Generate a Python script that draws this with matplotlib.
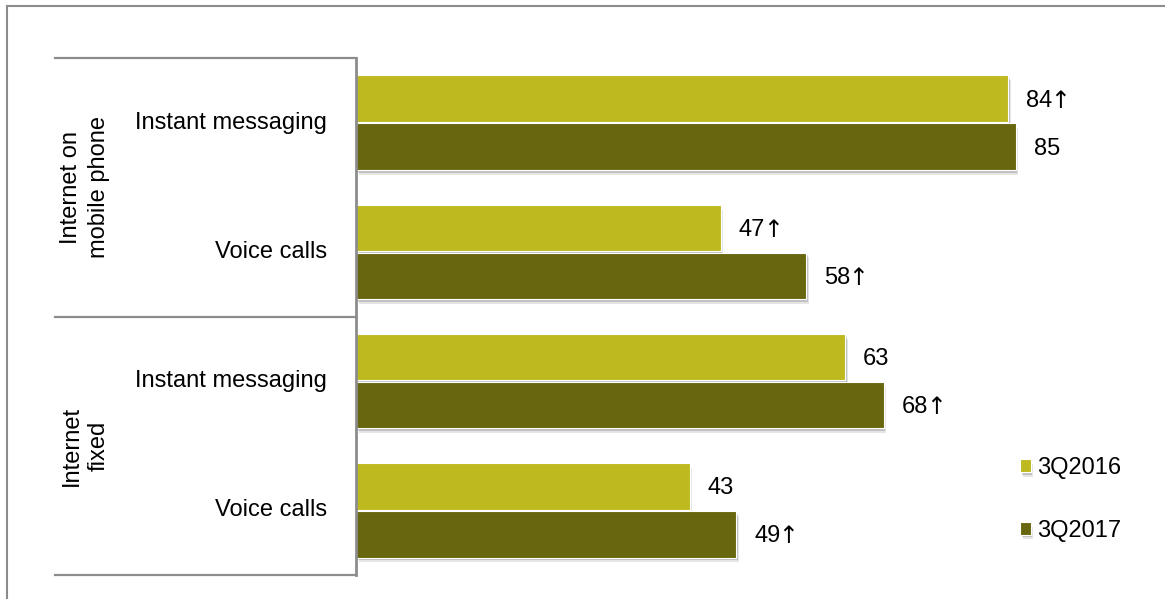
import matplotlib
matplotlib.use("Agg")
import matplotlib.pyplot as plt
import matplotlib.patheffects as pe
from matplotlib.lines import Line2D
from matplotlib.transforms import blended_transform_factory

plt.rcParams['font.family'] = ['Liberation Sans', 'DejaVu Sans']

# Data
groups = ["Internet on\nmobile phone", "Internet\nfixed"]
categories = ["Instant messaging", "Voice calls", "Instant messaging", "Voice calls"]
series_names = ["3Q2016", "3Q2017"]
values_2016 = [84, 47, 63, 43]
values_2017 = [85, 58, 68, 49]
up_2016 = [True, True, False, False]
up_2017 = [False, True, True, True]

colors = ["#BEB91E", "#68660E"]
grey = "#8C8C8C"

W, H = 1165, 599
fig = plt.figure(figsize=(W / 100, H / 100), dpi=100)
fig.patch.set_facecolor("white")

# Axes area (pixel geometry converted to figure fractions)
ax_left, ax_top, ax_bottom, ax_width = 356, 58, 575, 776
ax = fig.add_axes([ax_left / W, 1 - ax_bottom / H, ax_width / W, (ax_bottom - ax_top) / H])
ax.set_xlim(0, 100)
ax.set_ylim(len(categories), 0)
for s in ["top", "right", "bottom"]:
    ax.spines[s].set_visible(False)
ax.spines["left"].set_color(grey)
ax.spines["left"].set_linewidth(2)
ax.set_xticks([])
ax.set_yticks([])
ax.patch.set_alpha(0)

centers = [i + 0.5 for i in range(len(categories))]
bar_h = 0.36
off = 0.185

shadow = [
    pe.SimplePatchShadow(offset=(2.0, -3.5), shadow_rgbFace="#000000", alpha=0.10),
    pe.SimplePatchShadow(offset=(1.2, -2.0), shadow_rgbFace="#000000", alpha=0.16),
    pe.Normal(),
]

b1 = ax.barh([c - off for c in centers], values_2016, height=bar_h, color=colors[0],
             edgecolor="white", linewidth=0.8, label=series_names[0])
b2 = ax.barh([c + off for c in centers], values_2017, height=bar_h, color=colors[1],
             edgecolor="white", linewidth=0.8, label=series_names[1])
for bars in (b1, b2):
    for p in bars:
        p.set_path_effects(shadow)

fs = 17


def value_label(v, y, up):
    t = ax.annotate(f"{v}", xy=(v, y), xytext=(18, -2), textcoords="offset pixels",
                    va="center", ha="left", fontsize=fs)
    if up:
        ax.annotate("\u2191", xy=(1, 0.5), xycoords=t, xytext=(-2, 0),
                    textcoords="offset pixels", va="center", ha="left",
                    fontsize=fs, family="DejaVu Sans")


for c, v, u in zip(centers, values_2016, up_2016):
    value_label(v, c - off, u)
for c, v, u in zip(centers, values_2017, up_2017):
    value_label(v, c + off, u)

# Category labels
tr = blended_transform_factory(fig.transFigure, ax.transData)
for c, name in zip(centers, categories):
    ax.text(327 / W, c, name, transform=tr, ha="right", va="center", fontsize=fs)

# Group labels and separators
for gi, g in enumerate(groups):
    ax.text(85 / W, gi * 2 + 1, g, transform=tr, ha="center", va="center",
            rotation=90, fontsize=fs, linespacing=1.3)
for yv in [0, 2, 4]:
    ax.add_line(Line2D([55 / W, ax_left / W], [yv, yv], transform=tr, color=grey,
                       lw=1.6, clip_on=False))

# Legend
fig.legend(handles=[b1, b2], labels=series_names, loc="upper left",
           bbox_to_anchor=(1020 / W, 1 - 457 / H), frameon=False, fontsize=fs,
           handlelength=0.45, handleheight=0.45, handletextpad=0.28,
           labelspacing=1.72, borderpad=0, borderaxespad=0)

# Outer frame (top and left edges)
fig.add_artist(Line2D([7 / W, 7 / W], [0, 1 - 6 / H], transform=fig.transFigure,
                      color=grey, lw=1.5))
fig.add_artist(Line2D([7 / W, 1], [1 - 6 / H, 1 - 6 / H], transform=fig.transFigure,
                      color=grey, lw=1.5))

fig.savefig("out.png", dpi=100, facecolor="white")
